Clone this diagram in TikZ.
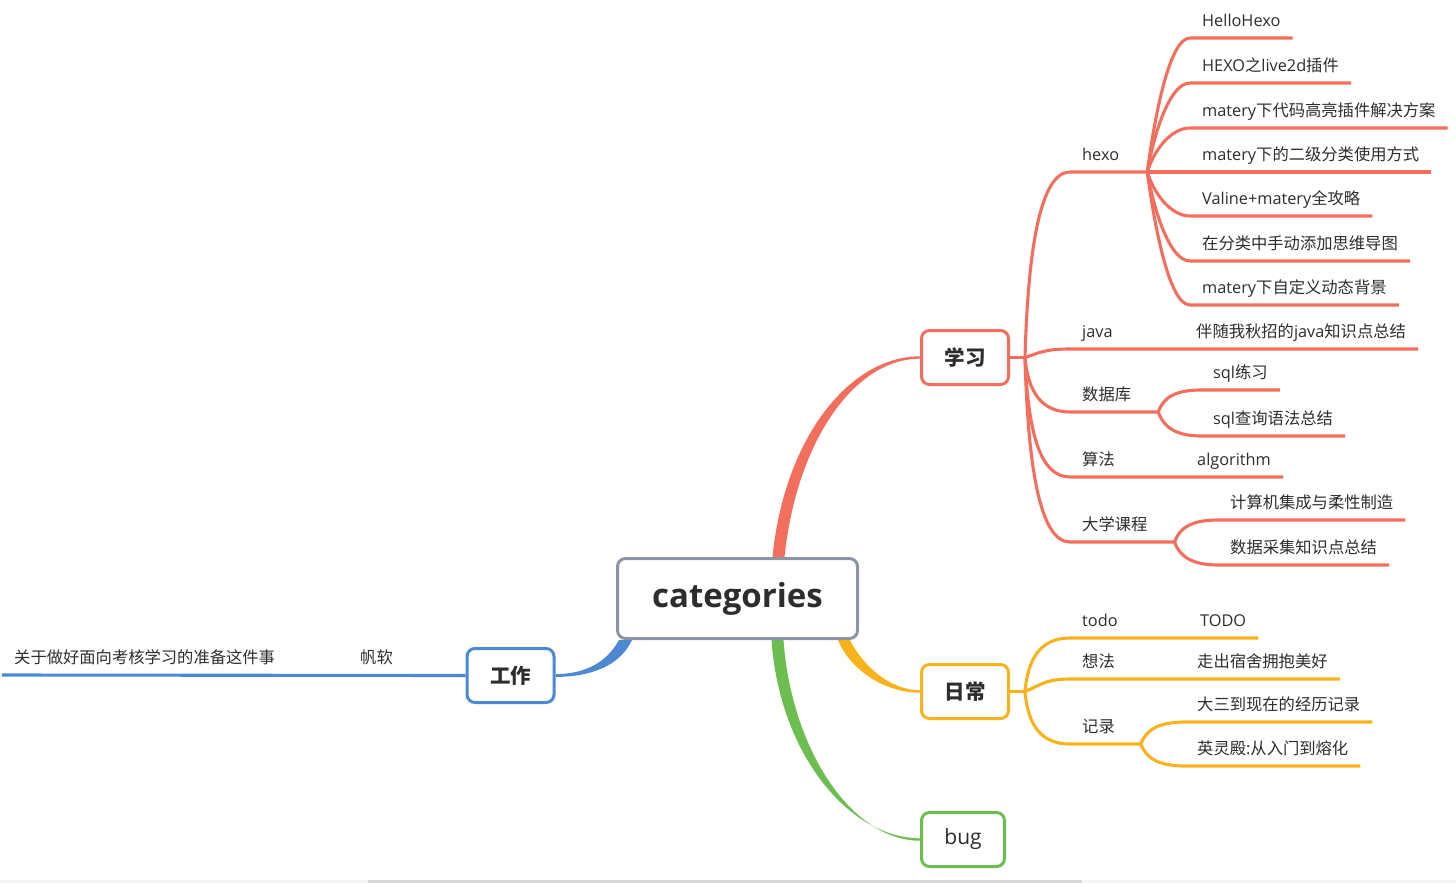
\documentclass[tikz,border=0pt]{standalone}
\usepackage{fontspec}
\usepackage{xcolor}
\usepackage{tikz}
\usetikzlibrary{backgrounds}
\setmainfont{Open Sans}
\newfontfamily\latinfont{Open Sans}
\newfontfamily\cjkfont{Noto Sans CJK SC}
% switch to the CJK font for Han characters
\XeTeXinterchartokenstate=1
\newXeTeXintercharclass\cjkclass
\newcount\cjkcode
\cjkcode="4E00
\loop\ifnum\cjkcode<"A000
  \XeTeXcharclass\cjkcode=\cjkclass
  \advance\cjkcode by 1
\repeat
\XeTeXinterchartoks 0 \cjkclass = {\cjkfont}
\XeTeXinterchartoks 4095 \cjkclass = {\cjkfont}
\XeTeXinterchartoks \cjkclass 0 = {\latinfont}

\definecolor{xred}{RGB}{243,110,92}
\definecolor{xorange}{RGB}{249,178,28}
\definecolor{xgreen}{RGB}{108,190,80}
\definecolor{xblue}{RGB}{76,136,212}
\definecolor{xgray}{RGB}{139,149,166}
\definecolor{txt}{RGB}{45,45,45}

\tikzset{
  topic/.style={draw, line width=3pt, rounded corners=8pt, fill=white, text=txt,
    minimum width=87pt, minimum height=54pt, font=\fontsize{20.5}{24}\selectfont\bfseries},
  item/.style={anchor=south west, inner xsep=12pt, inner ysep=7pt, text height=12pt,
    text depth=4pt, text=txt, font=\fontsize{16.3}{19}\selectfont},
  branch/.style={line width=3.1pt},
}

\begin{document}
\begin{tikzpicture}[x=1pt,y=-1pt]
\useasboundingbox (0,0) rectangle (1456,883);
\fill[gray!8] (0,880) rectangle (1456,883);
\fill[gray!30] (368,880) rectangle (1082,883);

% topics
\node[topic, draw=xgray, minimum width=240pt, minimum height=80pt, font=\fontsize{33}{38}\selectfont\bfseries] (root) at (737.5,598.5) {categories};
\node[topic, draw=xred] (xuexi) at (965,357.5) {学习};
\node[topic, draw=xorange] (richang) at (965,691.5) {日常};
\node[topic, draw=xgreen, minimum width=83pt, font=\fontsize{21}{25}\selectfont] (bug) at (963,839.5) {bug};
\node[topic, draw=xblue] (gongzuo) at (510.5,675.5) {工作};

% 学习
\node[item] (hexo) at (1070,172) {hexo};
\node[item] (java) at (1070,349) {java};
\node[item] (shujuku) at (1070,412) {数据库};
\node[item] (suanfa) at (1070,477) {算法};
\node[item] (daxue) at (1070,542) {大学课程};
\node[item] (hellohexo) at (1190,38) {HelloHexo};
\node[item] (live2d) at (1190,83) {HEXO之live2d插件};
\node[item] (gaoliang) at (1190,128) {matery下代码高亮插件解决方案};
\node[item] (erji) at (1190,172) {matery下的二级分类使用方式};
\node[item] (valine) at (1190,216) {Valine+matery全攻略};
\node[item] (shoudong) at (1190,261) {在分类中手动添加思维导图};
\node[item] (beijing) at (1190,305) {matery下自定义动态背景};
\node[item] (qiuzhao) at (1184,349) {伴随我秋招的java知识点总结};
\node[item] (sqllianxi) at (1201,390) {sql练习};
\node[item] (sqlchaxun) at (1201,436) {sql查询语法总结};
\node[item] (algorithm) at (1185,477) {algorithm};
\node[item] (jisuanji) at (1218,520) {计算机集成与柔性制造};
\node[item] (caiji) at (1218,565) {数据采集知识点总结};

% 日常
\node[item] (todo) at (1070,638) {todo};
\node[item] (xiangfa) at (1070,679) {想法};
\node[item] (jilu) at (1070,744) {记录};
\node[item] (todoleaf) at (1188,638) {TODO};
\node[item] (zouchu) at (1185,679) {走出宿舍拥抱美好};
\node[item] (dasan) at (1185,722) {大三到现在的经历记录};
\node[item] (yinglingdian) at (1185,766) {英灵殿:从入门到熔化};

% 工作
\node[item] (fanruan) at (348,675) {帆软};
\node[item] (mianxiang) at (2,675) {关于做好面向考核学习的准备这件事};

\coordinate (xuexi-hub) at ([xshift=15pt]xuexi.east);
\coordinate (hexo-hub) at ([xshift=16pt]hexo.south east);
\coordinate (shujuku-hub) at ([xshift=15pt]shujuku.south east);
\coordinate (daxue-hub) at ([xshift=15pt]daxue.south east);
\coordinate (richang-hub) at ([xshift=15pt]richang.east);
\coordinate (jilu-hub) at ([xshift=14pt]jilu.south east);

\begin{scope}[on background layer]
% main branches
\fill[xred] ([xshift=35pt]root.north) .. controls +(12,-120) and +(-70,0) .. ([yshift=1.2pt]xuexi.west)
  -- ([yshift=-1.2pt]xuexi.west) .. controls +(-66,0) and +(12,-115) .. ([xshift=47pt]root.north) -- cycle;
\fill[xgreen] ([xshift=34pt]root.south) .. controls +(8,115) and +(-70,0) .. ([yshift=1.2pt]bug.west)
  -- ([yshift=-1.2pt]bug.west) .. controls +(-68,0) and +(8,110) .. ([xshift=46pt]root.south) -- cycle;
\fill[xorange] ([xshift=-9pt]root.south east) .. controls +(12,25) and +(-30,0) .. ([yshift=1.2pt]richang.west)
  -- ([yshift=-1.2pt]richang.west) .. controls +(-35,0) and +(12,30) .. ([xshift=-21pt]root.south east) -- cycle;
\fill[xblue] ([xshift=3pt]root.south west) .. controls +(-12,22) and +(30,0) .. ([yshift=1.4pt]gongzuo.east)
  -- ([yshift=-1.4pt]gongzuo.east) .. controls +(35,0) and +(-12,26) .. ([xshift=16pt]root.south west) -- cycle;

% 学习
\draw[branch,xred] (xuexi.east) -- (xuexi-hub);
\draw[branch,xred] (xuexi-hub) .. controls +(3,-107) and +(-30,0) .. (hexo.south west) -- (hexo-hub);
\draw[branch,xred] (xuexi-hub) .. controls +(15,-5) and +(-25,0) .. (java.south west) -- (qiuzhao.south east);
\draw[branch,xred] (xuexi-hub) .. controls +(3,35) and +(-28,0) .. (shujuku.south west) -- (shujuku-hub);
\draw[branch,xred] (xuexi-hub) .. controls +(3,75) and +(-30,0) .. (suanfa.south west) -- (algorithm.south east);
\draw[branch,xred] (xuexi-hub) .. controls +(3,110) and +(-30,0) .. (daxue.south west) -- (daxue-hub);
\draw[branch,xred] (hexo-hub) .. controls +(8,-60) and +(-20,0) .. (hellohexo.south west) -- (hellohexo.south east);
\draw[branch,xred] (hexo-hub) .. controls +(7,-40) and +(-20,0) .. (live2d.south west) -- (live2d.south east);
\draw[branch,xred] (hexo-hub) .. controls +(6,-20) and +(-20,0) .. (gaoliang.south west) -- (gaoliang.south east);
\draw[branch,xred] (hexo-hub) -- (erji.south east);
\draw[branch,xred] (hexo-hub) .. controls +(6,20) and +(-20,0) .. (valine.south west) -- (valine.south east);
\draw[branch,xred] (hexo-hub) .. controls +(7,40) and +(-20,0) .. (shoudong.south west) -- (shoudong.south east);
\draw[branch,xred] (hexo-hub) .. controls +(8,60) and +(-20,0) .. (beijing.south west) -- (beijing.south east);
\draw[branch,xred] (shujuku-hub) .. controls +(5,-15) and +(-25,0) .. (sqllianxi.south west) -- (sqllianxi.south east);
\draw[branch,xred] (shujuku-hub) .. controls +(5,15) and +(-25,0) .. (sqlchaxun.south west) -- (sqlchaxun.south east);
\draw[branch,xred] (daxue-hub) .. controls +(5,-15) and +(-25,0) .. (jisuanji.south west) -- (jisuanji.south east);
\draw[branch,xred] (daxue-hub) .. controls +(5,15) and +(-25,0) .. (caiji.south west) -- (caiji.south east);

% 日常
\draw[branch,xorange] (richang.east) -- (richang-hub);
\draw[branch,xorange] (richang-hub) .. controls +(3,-35) and +(-28,0) .. (todo.south west) -- (todoleaf.south east);
\draw[branch,xorange] (richang-hub) .. controls +(15,-6) and +(-25,0) .. (xiangfa.south west) -- (zouchu.south east);
\draw[branch,xorange] (richang-hub) .. controls +(3,35) and +(-28,0) .. (jilu.south west) -- (jilu-hub);
\draw[branch,xorange] (jilu-hub) .. controls +(5,-15) and +(-25,0) .. (dasan.south west) -- (dasan.south east);
\draw[branch,xorange] (jilu-hub) .. controls +(5,15) and +(-25,0) .. (yinglingdian.south west) -- (yinglingdian.south east);

% 工作
\draw[branch,xblue] (gongzuo.west) -- (mianxiang.south west);
\end{scope}
\end{tikzpicture}
\end{document}
